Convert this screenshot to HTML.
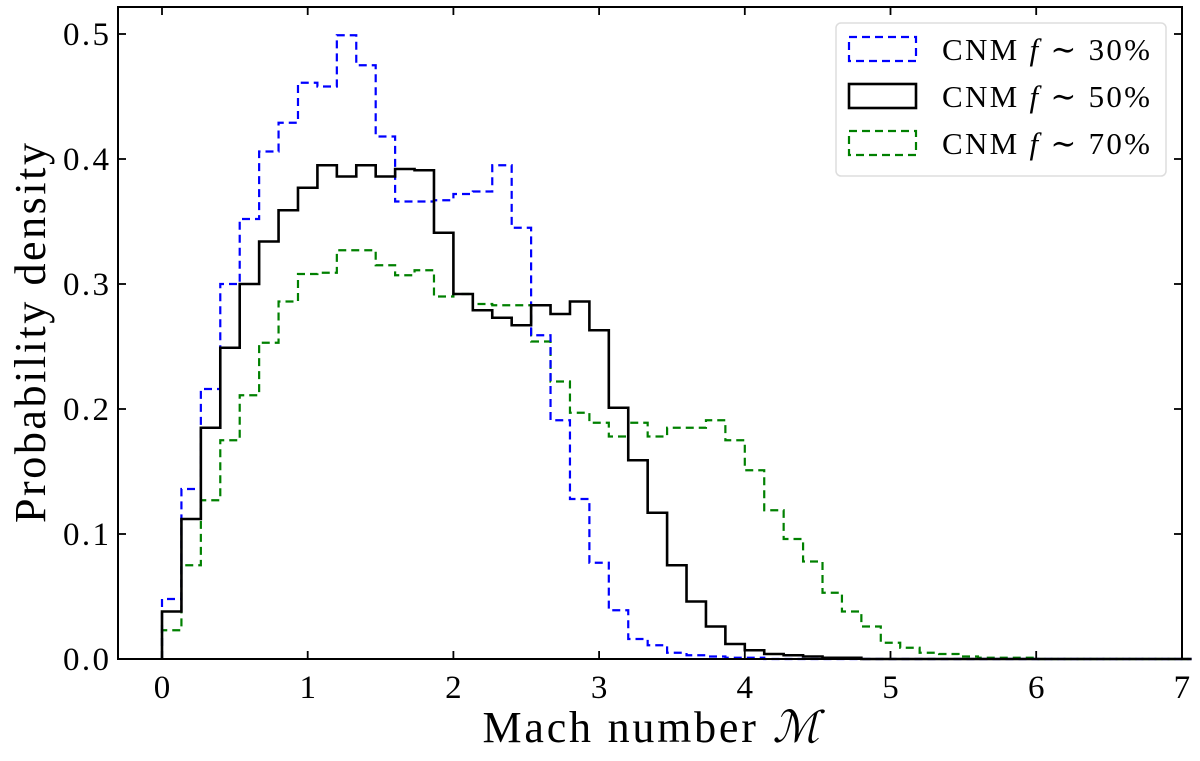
<!DOCTYPE html>
<html><head><meta charset="utf-8"><style>
body{margin:0;background:#fff;}
text{font-family:"Liberation Serif","DejaVu Serif",serif;fill:#000;}
</style></head><body>
<svg id="chart" width="1200" height="756" xmlns="http://www.w3.org/2000/svg">
<g id="marks"></g>
<g id="axes"></g>
<g id="legend"></g>
</svg>
<script>
const binWidth = 2/15;
const xTicks = [0,1,2,3,4,5,6,7];
const yTicks = [0,0.1,0.2,0.3,0.4,0.5];
const yTickLabels = ["0.0","0.1","0.2","0.3","0.4","0.5"];
const seriesNames = ["CNM f ~ 30%","CNM f ~ 50%","CNM f ~ 70%"];
const blue = [0.048,0.136,0.216,0.300,0.352,0.406,0.429,0.461,0.458,0.499,0.475,0.418,0.366,0.366,0.367,0.372,0.374,0.395,0.345,0.259,0.191,0.128,0.077,0.039,0.016,0.011,0.005,0.003,0.002,0.001,0.001,0,0,0,0,0,0,0,0,0,0,0,0,0,0,0,0,0,0,0,0,0,0];
const black = [0.038,0.112,0.185,0.249,0.300,0.334,0.359,0.377,0.395,0.386,0.395,0.386,0.392,0.391,0.341,0.292,0.279,0.273,0.267,0.283,0.276,0.286,0.263,0.201,0.159,0.117,0.075,0.046,0.026,0.012,0.007,0.004,0.003,0.002,0.001,0.001,0,0,0,0,0,0,0,0,0,0,0,0,0,0,0,0,0];
const green = [0.023,0.075,0.127,0.175,0.211,0.253,0.286,0.308,0.309,0.327,0.327,0.315,0.307,0.311,0.290,0.292,0.284,0.283,0.283,0.254,0.222,0.197,0.189,0.178,0.189,0.178,0.185,0.185,0.191,0.175,0.151,0.119,0.096,0.078,0.053,0.038,0.026,0.013,0.009,0.005,0.004,0.002,0.001,0.001,0.001,0,0,0,0,0,0,0,0];

const L=118,R=1182,T=7,B=659;
const sx = v => 162 + 145.7*v;
const sy = v => 659 - 1250*v;
const NS="http://www.w3.org/2000/svg";
function mk(tag, parent){const e=document.createElementNS(NS,tag);parent.appendChild(e);return e;}

const marks=document.getElementById('marks');
function step(vals,color,dash,w,name){
  let d="M"+sx(0)+","+sy(0);
  vals.forEach((v,i)=>{d+=" L"+sx(i*binWidth)+","+sy(v)+" L"+sx((i+1)*binWidth)+","+sy(v);});
  const p=mk('path',marks);
  p.setAttribute('d',d);p.setAttribute('fill','none');p.setAttribute('stroke',color);
  p.setAttribute('stroke-width',w);if(dash)p.setAttribute('stroke-dasharray',dash);
  
  
}
step(green,'#008000','8,5',2.2,'series-cnm-70');
step(blue,'#0000ff','8,5',2.2,'series-cnm-30');
step(black,'#000','',2.6,'series-cnm-50');

const axes=document.getElementById('axes');
const fr=mk('rect',axes);
fr.setAttribute('x',L);fr.setAttribute('y',T);fr.setAttribute('width',R-L);fr.setAttribute('height',B-T);
fr.setAttribute('fill','none');fr.setAttribute('stroke','#000');fr.setAttribute('stroke-width',2);


xTicks.forEach(v=>{
  const x=sx(v);
  [[B,B-8],[T,T+8]].forEach(([a,b])=>{const l=mk('line',axes);l.setAttribute('x1',x);l.setAttribute('x2',x);l.setAttribute('y1',a);l.setAttribute('y2',b);l.setAttribute('stroke','#000');l.setAttribute('stroke-width',1.8);
  
  });
  const t=mk('text',axes);t.setAttribute('x',x);t.setAttribute('y',B+39);t.setAttribute('text-anchor','middle');t.setAttribute('font-size','33');t.textContent=v;
  
  
});
yTicks.forEach((v,i)=>{
  const y=sy(v);
  [[L,L+8],[R,R-8]].forEach(([a,b])=>{const l=mk('line',axes);l.setAttribute('x1',a);l.setAttribute('x2',b);l.setAttribute('y1',y);l.setAttribute('y2',y);l.setAttribute('stroke','#000');l.setAttribute('stroke-width',1.8);
  
  });
  const t=mk('text',axes);t.setAttribute('x',L-9);t.setAttribute('y',y+11);t.setAttribute('text-anchor','end');t.setAttribute('font-size','33');t.setAttribute('textLength','46');t.textContent=yTickLabels[i];
  
  
});
const xl=mk('text',axes);xl.setAttribute('x',651);xl.setAttribute('y',742);xl.setAttribute('text-anchor','middle');xl.setAttribute('font-size','44');
xl.setAttribute('textLength','337');
xl.innerHTML='Mach number <tspan font-style="italic" font-family="DejaVu Serif, serif">ℳ</tspan>';


const yl=mk('text',axes);yl.setAttribute('x',0);yl.setAttribute('y',0);yl.setAttribute('text-anchor','middle');yl.setAttribute('font-size','44');
yl.setAttribute('textLength','380');
yl.setAttribute('transform','translate(45,333) rotate(-90)');yl.textContent='Probability density';



const lg=document.getElementById('legend');
const box=mk('rect',lg);
box.setAttribute('x',836);box.setAttribute('y',23);box.setAttribute('width',330);box.setAttribute('height',153);box.setAttribute('rx',5);
box.setAttribute('fill','#fff');box.setAttribute('stroke','#ddd');box.setAttribute('stroke-width',1.5);


const legColors=['#0000ff','#000','#008000'];
const legDash=['8,5','','8,5'];
const legPct=['30%','50%','70%'];
[49,96,143].forEach((cy,i)=>{
  const r=mk('rect',lg);r.setAttribute('x',849);r.setAttribute('y',cy-12);r.setAttribute('width',67);r.setAttribute('height',24);
  r.setAttribute('fill','none');r.setAttribute('stroke',legColors[i]);r.setAttribute('stroke-width',i==1?2.6:2.2);
  if(legDash[i])r.setAttribute('stroke-dasharray',legDash[i]);
  
  
  const t=mk('text',lg);t.setAttribute('x',942);t.setAttribute('y',cy+11);t.setAttribute('font-size','31');
  t.setAttribute('textLength','208');
  t.innerHTML='CNM <tspan font-style="italic">f</tspan> ∼ '+legPct[i];
  
  
});
</script>
</body></html>
